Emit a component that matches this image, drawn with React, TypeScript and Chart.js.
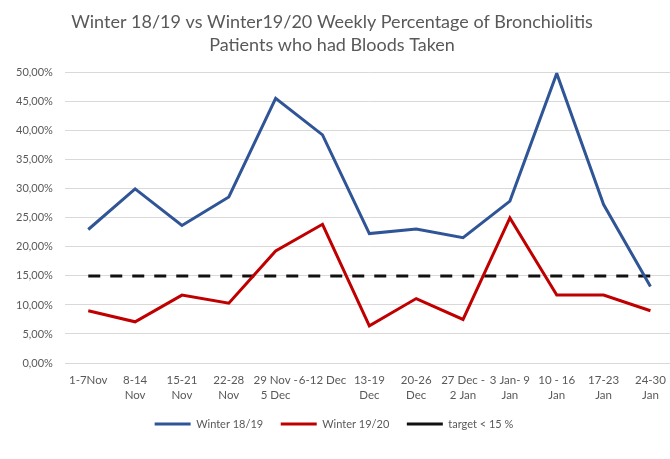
import React, { useEffect, useRef } from 'react';
import { Chart, registerables } from 'chart.js';

Chart.register(...registerables);

const categories: (string | string[])[] = [
  '1-7Nov',
  ['8-14', 'Nov'],
  ['15-21', 'Nov'],
  ['22-28', 'Nov'],
  ['29 Nov -', '5 Dec'],
  '6-12 Dec',
  ['13-19', 'Dec'],
  ['20-26', 'Dec'],
  ['27 Dec -', '2 Jan'],
  ['3 Jan- 9', 'Jan'],
  ['10 - 16', 'Jan'],
  ['17-23', 'Jan'],
  ['24-30', 'Jan'],
];

const winter1819 = [23.0, 30.0, 23.7, 28.6, 45.6, 39.3, 22.3, 23.1, 21.6, 27.9, 49.9, 27.3, 13.2];
const winter1920 = [9.0, 7.1, 11.7, 10.3, 19.3, 23.9, 6.4, 11.1, 7.5, 25.0, 11.7, 11.7, 9.0];
const target = [15, 15, 15, 15, 15, 15, 15, 15, 15, 15, 15, 15, 15];

const titleLines = [
  'Winter 18/19 vs Winter19/20 Weekly Percentage of Bronchiolitis',
  'Patients who had Bloods Taken',
];

const FONT = 'Lato, "Open Sans", sans-serif';
const GREY = '#595959';

const shiftBlocks = {
  id: 'shiftBlocks',
  afterLayout(chart: any) {
    if (chart.titleBlock) chart.titleBlock.right -= 14;
    if (chart.legend) chart.legend.right -= 10;
  },
};

export default function App() {
  const canvasRef = useRef<HTMLCanvasElement | null>(null);

  useEffect(() => {
    const canvas = canvasRef.current;
    if (!canvas) return;
    const chart = new Chart(canvas, {
      type: 'line',
      data: {
        labels: categories,
        datasets: [
          {
            label: 'Winter 18/19',
            data: winter1819,
            borderColor: '#2F5597',
            backgroundColor: '#2F5597',
            borderWidth: 3,
            pointRadius: 0,
            pointStyle: 'line',
            tension: 0,
          },
          {
            label: 'Winter 19/20',
            data: winter1920,
            borderColor: '#C00000',
            backgroundColor: '#C00000',
            borderWidth: 3,
            pointRadius: 0,
            pointStyle: 'line',
            tension: 0,
          },
          {
            label: 'target < 15 %',
            data: target,
            borderColor: '#111111',
            backgroundColor: '#111111',
            borderWidth: 3,
            borderDash: [12, 10],
            pointRadius: 0,
            pointStyle: 'line',
            tension: 0,
          },
        ],
      },
      options: {
        responsive: false,
        animation: false,
        layout: { padding: { left: 4, right: 2, top: 10, bottom: 19.5 } },
        plugins: {
          title: {
            display: true,
            text: titleLines,
            color: GREY,
            font: { family: FONT, size: 18, weight: 'normal', lineHeight: 1.3 },
            padding: { top: 0, bottom: 16 },
          },
          legend: {
            position: 'bottom',
            labels: {
              usePointStyle: true,
              pointStyleWidth: 36,
              boxWidth: 36,
              boxHeight: 10,
              color: GREY,
              font: { family: FONT, size: 11 },
              padding: 17.5,
            },
          },
          tooltip: { enabled: false },
        },
        scales: {
          x: {
            offset: true,
            grid: { display: false, drawTicks: false },
            border: { display: false },
            afterFit: (scale: any) => {
              scale.height = 38;
            },
            ticks: {
              autoSkip: false,
              maxRotation: 0,
              minRotation: 0,
              color: GREY,
              font: { family: FONT, size: 11.5, lineHeight: 1.3 },
              padding: 10,
            },
          },
          y: {
            min: 0,
            max: 50,
            grid: { color: '#D9D9D9', lineWidth: 1, drawTicks: false },
            border: { display: false },
            ticks: {
              stepSize: 5,
              color: GREY,
              font: { family: FONT, size: 11 },
              padding: 12,
              callback: (v: any) => Number(v).toFixed(2).replace('.', ',') + '%',
            },
          },
        },
      },
      plugins: [shiftBlocks],
    });
    return () => chart.destroy();
  }, []);

  return (
    <div
      style={{
        position: 'fixed',
        left: 0,
        top: 0,
        width: 670,
        height: 459,
        overflow: 'hidden',
        background: '#ffffff',
      }}
    >
      <canvas ref={canvasRef} width={676} height={459} style={{ display: 'block' }} />
    </div>
  );
}
